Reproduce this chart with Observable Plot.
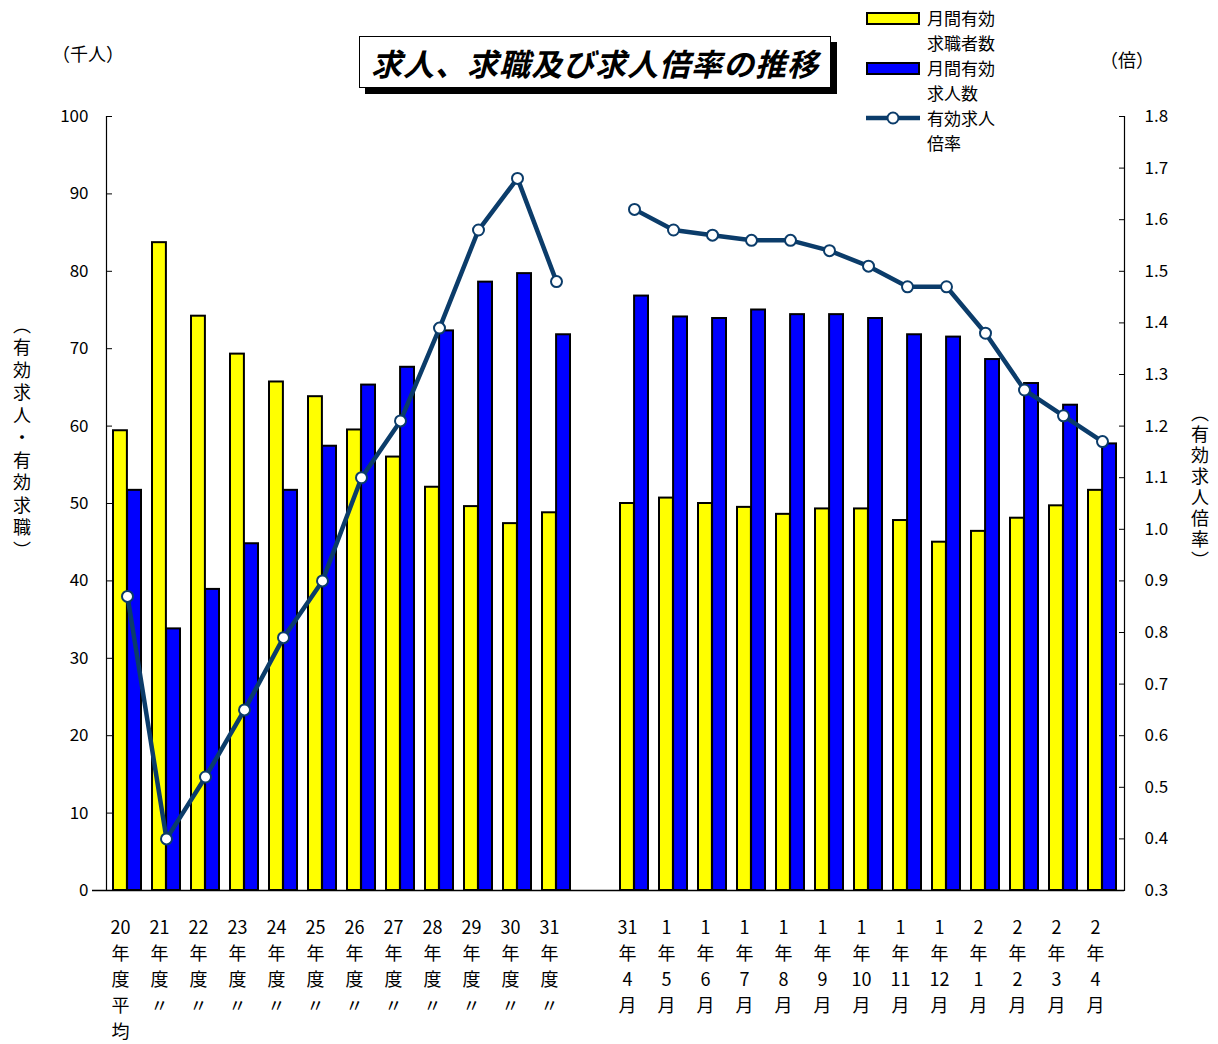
<!DOCTYPE html>
<html><head><meta charset="utf-8">
<script src="https://cdn.jsdelivr.net/npm/d3@7"></script>
<script src="https://cdn.jsdelivr.net/npm/@observablehq/plot@0.6"></script>
<style>
body{margin:0;background:#fff;font-family:"Noto Sans CJK JP","Noto Sans",sans-serif;color:#000;}
#wrap{position:relative;width:1218px;height:1044px;overflow:hidden;}
#chart{position:absolute;left:0;top:0;}
.abs{position:absolute;white-space:nowrap;}
#title-shadow{position:absolute;left:365px;top:42px;width:472px;height:52px;background:#000;}
#title{position:absolute;left:359px;top:36px;width:470px;height:50px;border:1px solid #000;background:#fff;
  font-size:31px;font-weight:bold;font-style:italic;display:flex;align-items:center;justify-content:center;letter-spacing:1px;}
.vert{position:absolute;writing-mode:vertical-rl;font-size:18px;}
.leg{position:absolute;font-size:17px;line-height:25px;}
.sw{position:absolute;width:50px;height:9px;border:2px solid #000;}
</style></head><body>
<div id="wrap">
  <div id="chart"></div>
  <div id="title-shadow"></div>
  <div id="title">求人、求職及び求人倍率の推移</div>
  <div class="abs" style="left:52px;top:40px;font-size:18px;">（千人）</div>
  <div class="abs" style="left:1100px;top:46px;font-size:18px;">（倍）</div>
  <div class="vert" style="left:9px;top:316px;letter-spacing:4.5px;">（有効求人・有効求職）</div>
  <div class="vert" style="left:1187px;top:404px;letter-spacing:3px;">（有効求人倍率）</div>
  <div class="sw" style="left:866px;top:12px;background:#ffff00;"></div>
  <div class="leg" style="left:927px;top:5px;">月間有効<br>求職者数</div>
  <div class="sw" style="left:866px;top:62px;background:#0000ff;"></div>
  <div class="leg" style="left:927px;top:55px;">月間有効<br>求人数</div>
  <svg class="abs" style="left:864px;top:108px;" width="60" height="20"><line x1="2" y1="10" x2="56" y2="10" stroke="#0b3c6a" stroke-width="4.5"/><circle cx="29" cy="10" r="5.5" fill="#fff" stroke="#0b3c6a" stroke-width="2"/></svg>
  <div class="leg" style="left:927px;top:105px;">有効求人<br>倍率</div>
</div>
<script>
// Categories (blank slot separates annual and monthly groups)
const categories = ["20年度平均","21年度","22年度","23年度","24年度","25年度","26年度","27年度","28年度","29年度","30年度","31年度"," ",
  "31年4月","1年5月","1年6月","1年7月","1年8月","1年9月","1年10月","1年11月","1年12月","2年1月","2年2月","2年3月","2年4月"];
const tickLabels = ["20\n年\n度\n平\n均","21\n年\n度\n〃","22\n年\n度\n〃","23\n年\n度\n〃","24\n年\n度\n〃","25\n年\n度\n〃","26\n年\n度\n〃","27\n年\n度\n〃","28\n年\n度\n〃","29\n年\n度\n〃","30\n年\n度\n〃","31\n年\n度\n〃","",
  "31\n年\n4\n月","1\n年\n5\n月","1\n年\n6\n月","1\n年\n7\n月","1\n年\n8\n月","1\n年\n9\n月","1\n年\n10\n月","1\n年\n11\n月","1\n年\n12\n月","2\n年\n1\n月","2\n年\n2\n月","2\n年\n3\n月","2\n年\n4\n月"];
// 月間有効求職者数 (千人)
const seekers = [59.4,83.7,74.2,69.3,65.7,63.8,59.5,56.0,52.1,49.6,47.4,48.8,null,
  50.0,50.7,50.0,49.5,48.6,49.3,49.3,47.8,45.0,46.4,48.1,49.7,51.7];
// 月間有効求人数 (千人)
const openings = [51.7,33.8,38.9,44.8,51.7,57.4,65.3,67.6,72.3,78.6,79.7,71.8,null,
  76.8,74.1,73.9,75.0,74.4,74.4,73.9,71.8,71.5,68.6,65.5,62.7,57.7];
// 有効求人倍率 (倍)
const ratio = [0.87,0.40,0.52,0.65,0.79,0.90,1.10,1.21,1.39,1.58,1.68,1.48,null,
  1.62,1.58,1.57,1.56,1.56,1.54,1.51,1.47,1.47,1.38,1.27,1.22,1.17];
const leftTicks = [0,10,20,30,40,50,60,70,80,90,100];
const rightTicks = [0.3,0.4,0.5,0.6,0.7,0.8,0.9,1.0,1.1,1.2,1.3,1.4,1.5,1.6,1.7,1.8];
const rMin = 0.3, rMax = 1.8;

const toLeft = r => (r == null ? undefined : (r - rMin) / (rMax - rMin) * 100);
const fromLeft = v => v / 100 * (rMax - rMin) + rMin;
const labelOf = new Map(categories.map((c, i) => [c, tickLabels[i]]));
const data = categories.map((c, i) => ({cat: c, seekers: seekers[i] ?? undefined, openings: openings[i] ?? undefined, ratio: toLeft(ratio[i])}));

const W = 1218, H = 1044;
const mL = 106, mR = 94, mT = 116, mB = 154;
const step = (W - mL - mR) / categories.length;
const half = step * 0.72 / 2;
const navy = "#0b3c6a";

const chart = Plot.plot({
  width: W, height: H,
  marginLeft: mL, marginRight: mR, marginTop: mT, marginBottom: mB,
  style: {fontFamily: '"Noto Sans CJK JP","Noto Sans",sans-serif', color: "#000", background: "transparent"},
  x: {type: "band", domain: categories, paddingInner: 0.28, paddingOuter: 0.14, axis: null, label: null},
  y: {domain: [0, 100], axis: null, label: null},
  marks: [
    Plot.barY(data, {x: "cat", y: "seekers", fill: "#ffff00", stroke: "#000", strokeWidth: 2, insetRight: half}),
    Plot.barY(data, {x: "cat", y: "openings", fill: "#0000ff", stroke: "#000", strokeWidth: 2, insetLeft: half}),
    Plot.frame({anchor: "left", stroke: "#000", strokeWidth: 1.2}),
    Plot.frame({anchor: "right", stroke: "#000", strokeWidth: 1.2}),
    Plot.ruleY([0], {stroke: "#000", strokeWidth: 1.5, insetLeft: -14}),
    Plot.line(data, {x: "cat", y: "ratio", stroke: navy, strokeWidth: 4.5, curve: "linear"}),
    Plot.dot(data, {x: "cat", y: "ratio", r: 5.5, fill: "#fff", stroke: navy, strokeWidth: 2}),
    // left axis
    Plot.axisY(leftTicks, {anchor: "left", tickSize: 0, tickPadding: 18, fontSize: 17, label: null}),
    Plot.axisY(leftTicks, {anchor: "left", tickSize: -6, tickFormat: () => "", stroke: "#000", label: null}),
    // right axis (ratio)
    Plot.axisY(rightTicks.map(toLeft), {anchor: "right", tickSize: 0, tickPadding: 20, fontSize: 17, label: null, tickFormat: v => fromLeft(v).toFixed(1)}),
    Plot.axisY(rightTicks.map(toLeft), {anchor: "right", tickSize: -6, tickFormat: () => "", stroke: "#000", label: null}),
    // x axis labels
    Plot.axisX({anchor: "bottom", tickSize: 0, tickPadding: 25, fontSize: 18, lineHeight: 1.44, dx: -7, label: null, tickFormat: c => labelOf.get(c)})
  ]
});
document.getElementById("chart").appendChild(chart);
</script>
</body></html>
